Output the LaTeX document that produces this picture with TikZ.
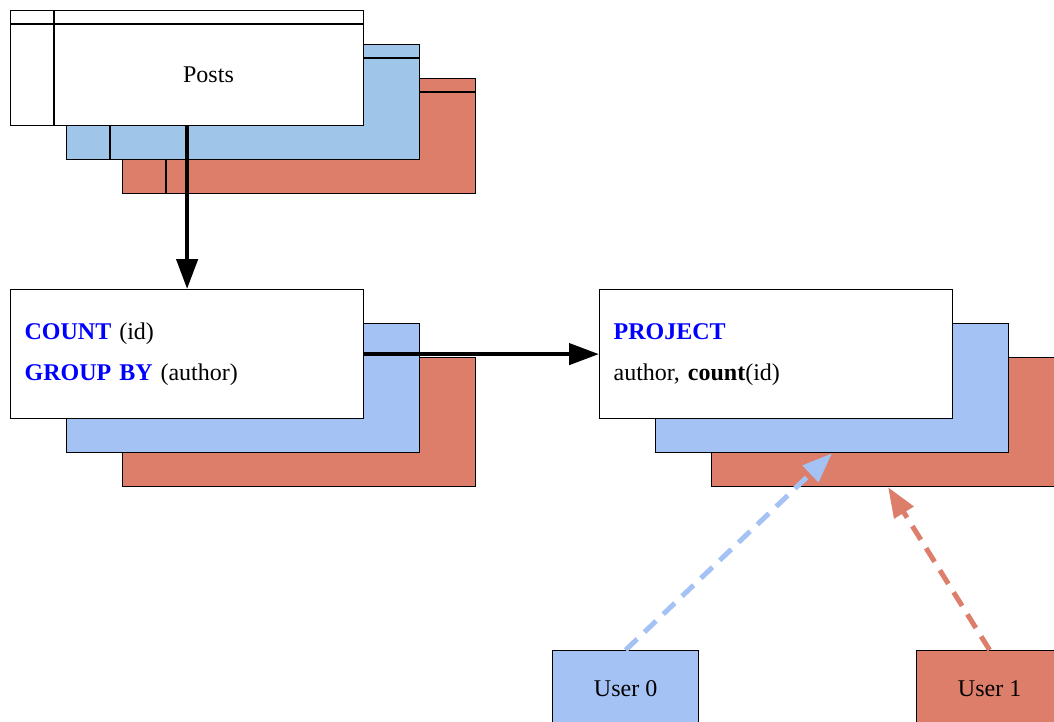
\documentclass[tikz,border=0pt]{standalone}
\usepackage{fontspec}
\setmainfont{Liberation Serif}
\usetikzlibrary{arrows.meta}
\definecolor{tblblue}{HTML}{9FC5E8}
\definecolor{opblue}{HTML}{A4C2F4}
\definecolor{opred}{HTML}{DD7E6B}
\definecolor{kwblue}{HTML}{0000FF}
\tikzstyle{layer}=[rectangle, draw=black, line width=1.2pt, inner sep=0pt, anchor=north west]
\tikzstyle{tbl}=[layer, minimum width=353pt, minimum height=115pt]
\tikzstyle{op}=[layer, minimum width=353pt, minimum height=129pt]
\tikzstyle{opfront}=[op, fill=white, text width=325pt, align=left, inner xsep=14pt, font=\fontsize{24}{41}\selectfont]
\tikzstyle{user}=[layer, minimum width=146pt, minimum height=76pt]
\tikzstyle{flow}=[line width=4.5pt, -{Triangle[length=30pt,width=21pt]}]
\tikzstyle{userflow}=[line width=5pt, dash pattern=on 16pt off 10pt, -{Triangle[length=30pt,width=22pt]}]
\newcommand{\kw}[1]{\textcolor{kwblue}{\textbf{#1}}}

\begin{document}
\begin{tikzpicture}[x=1pt, y=-1pt, font=\fontsize{24}{29}\selectfont]
    \useasboundingbox (0,0) rectangle (1054,721);
    \clip (0,0) rectangle (1054,721);
    % the Posts table, one copy per user
    \foreach \c/\i in {opred/2, tblblue/1, white/0} {
      \node[tbl, fill=\c] (posts\i) at ({10+56*\i},{10+34*\i}) {};
      \draw[line width=1.2pt] (posts\i.north west) ++(0,14) -- ++(353,0);
      \draw[line width=1.2pt] (posts\i.north west) ++(44,0) -- ++(0,115);
    }
    \node (postslbl) at (208.5,74.5) {Posts};
    % operators
    \foreach \c/\i in {opred/2, opblue/1} {
      \node[op, fill=\c] (count\i) at ({10+56*\i},{289+34*\i}) {};
      \node[op, fill=\c] (project\i) at ({599+56*\i},{289+34*\i}) {};
    }
    \node[opfront] (count0) at (10,289) {\kw{COUNT} (id)\\\kw{GROUP BY} (author)};
    \node[opfront] (project0) at (599,289) {\kw{PROJECT}\\author, \textbf{count}(id)};
    % users
    \node[user, fill=opblue] (user0) at (552,650) {User 0};
    \node[user, fill=opred] (user1) at (916,650) {User 1};
    \draw[flow] (posts0.south) -- (count0.north);
    \draw[flow] (count0.east) -- (project0.west);
    \draw[userflow, draw=opblue] (user0.north) -- (project1.south);
    \draw[userflow, draw=opred] (user1.north) -- (project2.south);
  \end{tikzpicture}
\end{document}
